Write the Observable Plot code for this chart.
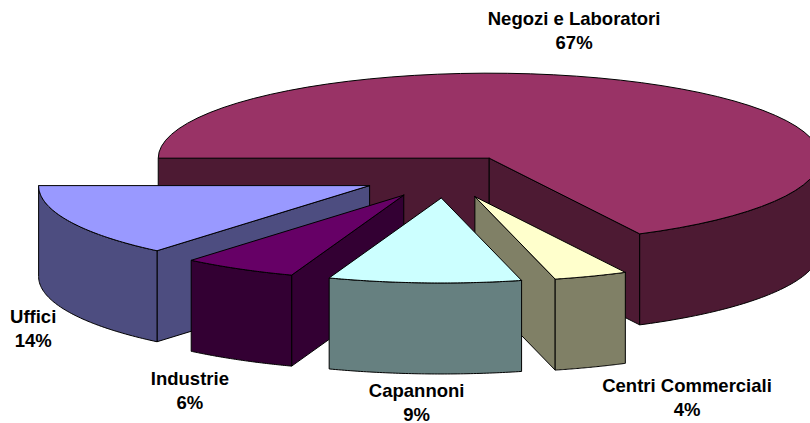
<!DOCTYPE html>
<html>
<head>
<meta charset="utf-8">
<script src="https://cdn.jsdelivr.net/npm/d3@7"></script>
<script src="https://cdn.jsdelivr.net/npm/@observablehq/plot@0.6"></script>
<style>
html,body{margin:0;padding:0;background:#fff;overflow:hidden}
</style>
</head>
<body>
<div id="chart"></div>
<script>
// Data: clockwise from the left edge of the pie
const categories = ["Negozi e Laboratori", "Centri Commerciali", "Capannoni", "Industrie", "Uffici"];
const shares = [67.49, 3.61, 9.4, 5.6, 13.9];
const topColors = ["#993366", "#ffffcc", "#ccffff", "#660066", "#9999ff"];
const wallColors = ["#4d1a33", "#808066", "#668080", "#330033", "#4d4d80"];

// Pie projection
const pie = {cx: 445, cy: 176, rx: 331, ry: 85, depth: 91, explode: 0.253, startAngle: 180};
// Label placement relative to each slice's outer rim (same order as categories)
const labelNudge = [[-88, -56], [96, 120], [-8, 118], [-49, 120.5], [-36.5, 106]];
// Painter's order, back to front (indexes into categories)
const paintOrder = [0, 4, 3, 1, 2];

const rad = d => d * Math.PI / 180;
const total = d3.sum(shares);
let cursor = pie.startAngle;
const slices = categories.map((name, i) => {
  const a = cursor, b = a + shares[i] / total * 360;
  cursor = b;
  const mid = (a + b) / 2;
  const ox = pie.cx + pie.explode * pie.rx * Math.cos(rad(mid));
  const oy = pie.cy + pie.explode * pie.ry * Math.sin(rad(mid));
  return {i, name, a, b, mid, ox, oy};
});
const rim = (s, t) => [s.ox + pie.rx * Math.cos(rad(t)), s.oy + pie.ry * Math.sin(rad(t))];
const arc = (s, a, b) => d3.range(0, 61).map(k => rim(s, a + (b - a) * k / 60));
const drop = p => [p[0], p[1] + pie.depth];

const polygons = [];
const add = (id, fill, pts) => {
  const closed = [...pts, pts[0]];
  closed.forEach(p => polygons.push({id, fill, x: p[0], y: p[1]}));
};
for (const idx of paintOrder) {
  const s = slices[idx], wall = wallColors[idx], top = topColors[idx];
  const apex = [s.ox, s.oy];
  if (-Math.cos(rad(s.a)) > 0) {
    const r = rim(s, s.a);
    add(idx + "-start", wall, [apex, r, drop(r), drop(apex)]);
  }
  if (Math.cos(rad(s.b)) > 0) {
    const r = rim(s, s.b);
    add(idx + "-end", wall, [apex, r, drop(r), drop(apex)]);
  }
  for (const [lo, hi] of [[0, 180], [360, 540]]) {
    const a = Math.max(s.a, lo), b = Math.min(s.b, hi);
    if (b > a) {
      const upper = arc(s, a, b);
      add(idx + "-outer" + lo, wall, [...upper, ...upper.map(drop).reverse()]);
    }
  }
  add(idx + "-top", top, [apex, ...arc(s, s.a, s.b)]);
}

const ids = [...new Set(polygons.map(d => d.id))];
const fills = new Map(polygons.map(d => [d.id, d.fill]));

const labels = slices.map(s => {
  const p = [
    pie.cx + (pie.explode + 1) * pie.rx * Math.cos(rad(s.mid)),
    pie.cy + (pie.explode + 1) * pie.ry * Math.sin(rad(s.mid))
  ];
  return {text: s.name + "\n" + Math.round(shares[s.i]) + "%", x: p[0] + labelNudge[s.i][0], y: p[1] + labelNudge[s.i][1]};
});

const chart = Plot.plot({
  width: 810,
  height: 423,
  margin: 0,
  x: {domain: [0, 810], axis: null},
  y: {domain: [423, 0], axis: null},
  style: {background: "#fff"},
  marks: [
    ...ids.map(id => Plot.line(polygons.filter(d => d.id === id), {
      x: "x", y: "y", fill: fills.get(id), stroke: "#000", strokeWidth: 1, strokeLinejoin: "miter", curve: "linear"
    })),
    Plot.text(labels, {
      x: "x", y: "y", text: "text", lineHeight: 1.3, fontSize: 18.5, fontWeight: "bold",
      fontFamily: "Liberation Sans, Arial, sans-serif", fill: "#000", textAnchor: "middle"
    })
  ]
});
document.getElementById("chart").appendChild(chart);
</script>
</body>
</html>
